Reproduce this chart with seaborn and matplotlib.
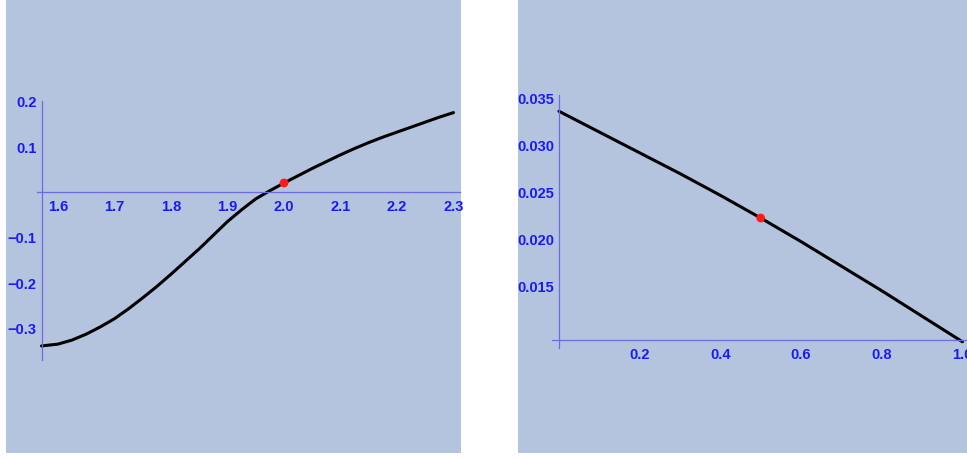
import numpy as np
import pandas as pd
import matplotlib
matplotlib.use("Agg")
import matplotlib.pyplot as plt
import seaborn as sns
from matplotlib.patches import Rectangle

# left panel curve
left_x = [1.5708, 1.60, 1.625, 1.65, 1.675, 1.70, 1.725, 1.75, 1.775, 1.80,
          1.825, 1.85, 1.875, 1.90, 1.925, 1.95, 1.975, 2.00, 2.025, 2.05,
          2.075, 2.10, 2.125, 2.15, 2.175, 2.20, 2.225, 2.25, 2.275, 2.30]
left_y = [-0.338, -0.334, -0.325, -0.312, -0.296, -0.278, -0.256, -0.232, -0.207, -0.180,
          -0.152, -0.124, -0.094, -0.064, -0.038, -0.014, 0.004, 0.021, 0.037, 0.053,
          0.068, 0.083, 0.097, 0.110, 0.122, 0.133, 0.144, 0.155, 0.166, 0.176]
left_pt = (2.0, 0.021)
left_xticks = [1.6, 1.7, 1.8, 1.9, 2.0, 2.1, 2.2, 2.3]
left_xlabels = ["1.6", "1.7", "1.8", "1.9", "2.0", "2.1", "2.2", "2.3"]
left_yticks = [-0.3, -0.2, -0.1, 0.1, 0.2]
left_ylabels = ["\u22120.3", "\u22120.2", "\u22120.1", "0.1", "0.2"]

# right panel curve
right_x = [0.0, 0.1, 0.2, 0.3, 0.4, 0.5, 0.6, 0.7, 0.8, 0.9, 1.0]
right_y = [0.0336, 0.0314, 0.0292, 0.0270, 0.0247, 0.0223, 0.0198, 0.0172, 0.0146, 0.0119, 0.0092]
right_pt = (0.5, 0.0223)
right_xticks = [0.2, 0.4, 0.6, 0.8, 1.0]
right_xlabels = ["0.2", "0.4", "0.6", "0.8", "1.0"]
right_yticks = [0.015, 0.020, 0.025, 0.030, 0.035]
right_ylabels = ["0.015", "0.020", "0.025", "0.030", "0.035"]

W, H = 967, 458
bg = "#b5c4de"
axcol = "#6c6ce0"
labcol = "#1a1af5"

fig = plt.figure(figsize=(W / 100, H / 100), dpi=100, facecolor="white")

def px_rect(x0, y0, x1, y1):
    # pixel box (top-left origin) -> figure fraction [l, b, w, h]
    return [x0 / W, (H - y1) / H, (x1 - x0) / W, (y1 - y0) / H]

# panel backgrounds as bare axes behind the plots
for r in (px_rect(6, 0, 461, 453), px_rect(518, 0, 967, 453)):
    bax = fig.add_axes(r, zorder=-5)
    bax.set_axis_off()
    bax.add_patch(Rectangle((0, 0), 1, 1, transform=bax.transAxes,
                            facecolor=bg, edgecolor="none"))

def style(ax, xorig, yorig, xt, xl, yt, yl):
    ax.set_facecolor("none")
    for s in ("top", "right"):
        ax.spines[s].set_visible(False)
    ax.spines["left"].set_position(("data", xorig))
    ax.spines["bottom"].set_position(("data", yorig))
    for s in ("left", "bottom"):
        ax.spines[s].set_color(axcol)
        ax.spines[s].set_linewidth(0.9)
    ax.set_xticks(xt)
    ax.set_xticklabels(xl)
    ax.set_yticks(yt)
    ax.set_yticklabels(yl)
    ax.tick_params(axis="x", length=0, pad=5.5)
    ax.tick_params(axis="y", length=0, pad=3.5)
    for t in ax.get_xticklabels() + ax.get_yticklabels():
        t.set_fontfamily("Liberation Sans")
        t.set_fontweight("bold")
        t.set_fontsize(10.5)
        t.set_color(labcol)
    ax.set_xlabel("")
    ax.set_ylabel("")

# left axes: x px = 58 + (x-1.6)*565, y px = 192.5 - v*454
ax1 = fig.add_axes(px_rect(37.1, 100.8, 460.0, 360.0), zorder=1)
df1 = pd.DataFrame({"x": left_x, "y": left_y})
sns.lineplot(data=df1, x="x", y="y", ax=ax1, color="black", linewidth=2.2, sort=False,
             solid_capstyle="round", solid_joinstyle="round")
sns.scatterplot(x=[left_pt[0]], y=[left_pt[1]], ax=ax1, color="#ff1a1a", s=40,
                edgecolor="none", zorder=5)
ax1.set_xlim(1.563, 2.3115)
ax1.set_ylim(-0.369, 0.202)
style(ax1, 1.5708, 0.0, left_xticks, left_xlabels, left_yticks, left_ylabels)

# right axes: x px = 559 + x*403.5, y px = 98 + (0.035-v)*9450
ax2 = fig.add_axes(px_rect(552.1, 95.2, 967.3, 348.0), zorder=1)
df2 = pd.DataFrame({"x": right_x, "y": right_y})
sns.lineplot(data=df2, x="x", y="y", ax=ax2, color="black", linewidth=2.2, sort=False,
             solid_capstyle="round", solid_joinstyle="round")
sns.scatterplot(x=[right_pt[0]], y=[right_pt[1]], ax=ax2, color="#ff1a1a", s=40,
                edgecolor="none", zorder=5)
ax2.set_xlim(-0.017, 1.012)
ax2.set_ylim(0.00854, 0.0353)
style(ax2, 0.0, 0.0094, right_xticks, right_xlabels, right_yticks, right_ylabels)

fig.savefig("out.png", dpi=100, facecolor="white")
